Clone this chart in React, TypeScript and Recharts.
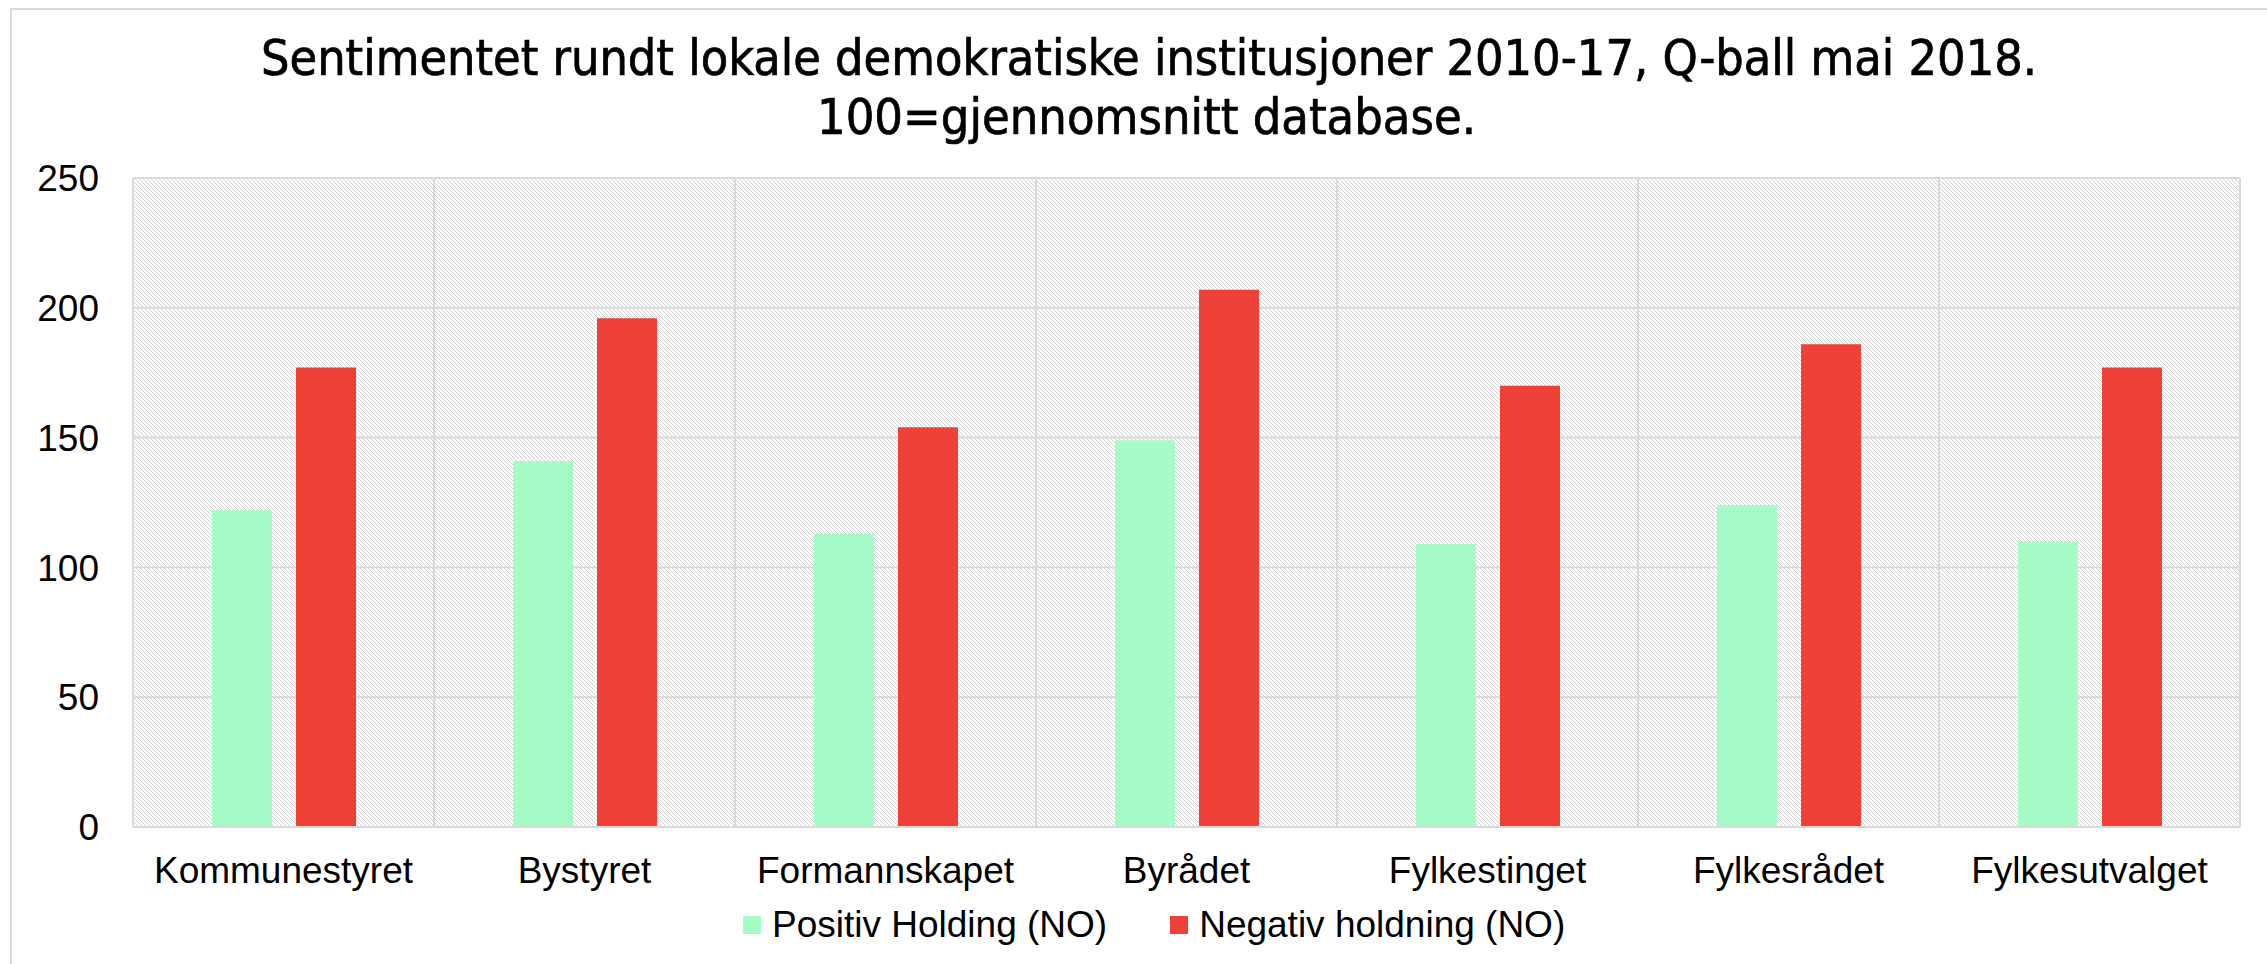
import { Bar, BarChart, CartesianGrid, XAxis, YAxis } from 'recharts'

const categories = [
  'Kommunestyret',
  'Bystyret',
  'Formannskapet',
  'Byrådet',
  'Fylkestinget',
  'Fylkesrådet',
  'Fylkesutvalget',
]
const positiv = [122, 141, 113, 149, 109, 124, 110]
const negativ = [177, 196, 154, 207, 170, 186, 177]
const yTicks = [0, 50, 100, 150, 200, 250]

const seriesNames = ['Positiv Holding (NO)', 'Negativ holdning (NO)']
const titleLines = [
  'Sentimentet rundt lokale demokratiske institusjoner 2010-17, Q-ball mai 2018.',
  '100=gjennomsnitt database.',
]

const GREEN = '#a6fcc6'
const RED = '#ef4138'
const GRID = '#d9d9d9'
const FONT = '"Liberation Sans", Arial, sans-serif'
const TITLE_FONT = '"DejaVu Sans Condensed", "DejaVu Sans", sans-serif'

const data = categories.map((name, i) => ({
  name,
  pos: positiv[i],
  neg: negativ[i],
}))

export default function App() {
  return (
    <div
      style={{
        position: 'absolute',
        left: 0,
        top: 0,
        width: 2267,
        height: 964,
        background: '#fff',
        overflow: 'hidden',
      }}
    >
      {/* frame, only top and left edges are visible */}
      <div
        style={{
          position: 'absolute',
          left: 10,
          top: 8,
          width: 2300,
          height: 1000,
          borderTop: `2px solid ${GRID}`,
          borderLeft: `2px solid ${GRID}`,
        }}
      />

      <svg
        width={2267}
        height={150}
        style={{ position: 'absolute', left: 0, top: 0 }}
      >
        <text
          x={261}
          y={75}
          fontFamily={TITLE_FONT}
          fontSize={50}
          textLength={1776}
          lengthAdjust="spacingAndGlyphs"
          fill="#000"
          stroke="#000"
          strokeWidth={0.7}
        >
          {titleLines[0]}
        </text>
        <text
          x={817}
          y={134}
          fontFamily={TITLE_FONT}
          fontSize={50}
          textLength={659}
          lengthAdjust="spacingAndGlyphs"
          fill="#000"
          stroke="#000"
          strokeWidth={0.7}
        >
          {titleLines[1]}
        </text>
      </svg>

      <div style={{ position: 'absolute', left: 0, top: 0 }}>
        <BarChart
          width={2267}
          height={964}
          data={data}
          margin={{ top: 178, right: 27, bottom: 0, left: 0 }}
          barCategoryGap={79}
          barGap={24}
        >
          <defs>
            <pattern
              id="hatch"
              patternUnits="userSpaceOnUse"
              width={4}
              height={4}
            >
              <rect width={4} height={4} fill="#fff" />
              <path
                d="M0,0 L4,4 M-1,3 L1,5 M3,-1 L5,1"
                stroke="#d2d2d2"
                strokeWidth={1}
              />
            </pattern>
          </defs>
          <CartesianGrid
            fill="url(#hatch)"
            fillOpacity={1}
            stroke={GRID}
            strokeWidth={2}
            verticalCoordinatesGenerator={({ offset }: any) =>
              Array.from(
                { length: categories.length + 1 },
                (_, i) => offset.left + (i * offset.width) / categories.length,
              )
            }
          />
          <XAxis
            dataKey="name"
            interval={0}
            height={137}
            tickLine={false}
            tickSize={0}
            tickMargin={30}
            axisLine={{ stroke: GRID, strokeWidth: 2 }}
            tick={{ fill: '#000', fontSize: 37, fontFamily: FONT }}
          />
          <YAxis
            width={133}
            domain={[0, 250]}
            ticks={yTicks}
            interval={0}
            axisLine={false}
            tickLine={false}
            tickSize={0}
            tickMargin={34}
            tick={{ fill: '#000', fontSize: 37, fontFamily: FONT }}
          />
          <Bar dataKey="pos" name={seriesNames[0]} fill={GREEN} isAnimationActive={false} />
          <Bar dataKey="neg" name={seriesNames[1]} fill={RED} isAnimationActive={false} />
        </BarChart>
      </div>

      <div
        style={{
          position: 'absolute',
          left: 743,
          top: 903,
          display: 'flex',
          alignItems: 'center',
          gap: 63,
          fontFamily: FONT,
          fontSize: 37,
          lineHeight: '44px',
          color: '#000',
          whiteSpace: 'nowrap',
        }}
      >
        {seriesNames.map((n, i) => (
          <span key={n} style={{ display: 'flex', alignItems: 'center', gap: 11 }}>
            <span
              style={{
                display: 'inline-block',
                width: 18,
                height: 18,
                background: i === 0 ? GREEN : RED,
              }}
            />
            {n}
          </span>
        ))}
      </div>
    </div>
  )
}
